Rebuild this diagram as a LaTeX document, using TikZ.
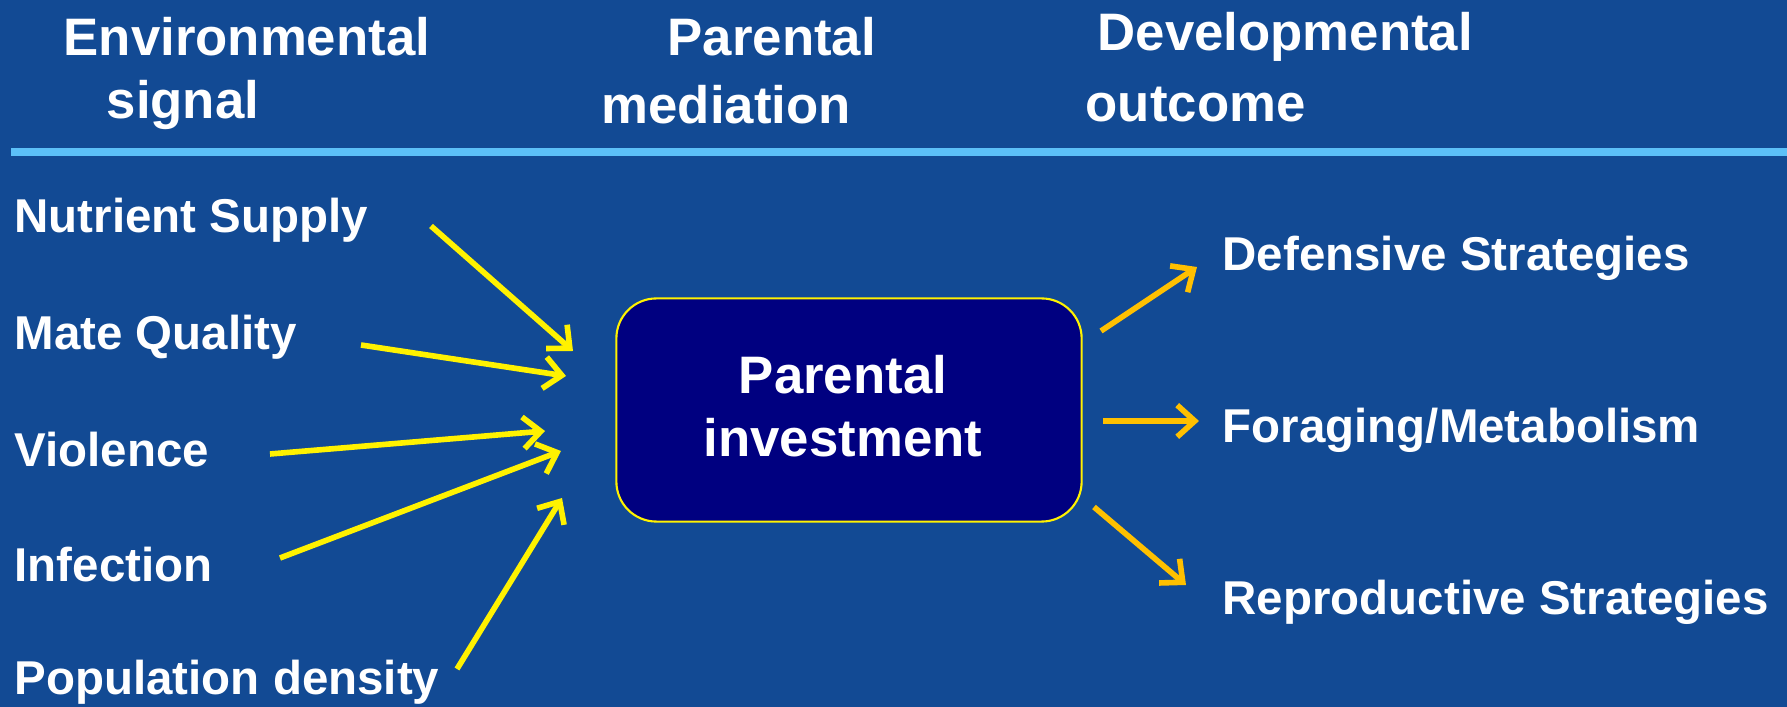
\documentclass[tikz,border=0pt]{standalone}
\usepackage{fontspec}
\setmainfont{Liberation Sans}
\usetikzlibrary{arrows.meta}
\definecolor{slide}{RGB}{18,74,148}
\definecolor{rule}{RGB}{92,192,248}
\definecolor{boxfill}{RGB}{0,0,128}
\definecolor{gold}{RGB}{255,192,0}

\begin{document}
\begin{tikzpicture}[x = 0.01cm, y = -0.01cm,
    every node/.style = { text = white, inner sep = 0 },
    head/.style = { anchor = west, font = \bfseries\fontsize{15}{18}\selectfont },
    lbl/.style = { anchor = west, font = \bfseries\fontsize{13.5}{16}\selectfont },
    inarrow/.style = { draw = yellow, line width = 1.6pt, -{Straight Barb[length=5pt, width=9pt]} },
    outarrow/.style = { draw = gold, line width = 1.6pt, -{Straight Barb[length=5pt, width=9pt]} }]
    \fill [slide] (0,0) rectangle (1787,707);
    \useasboundingbox (0,0) rectangle (1787,707);

    % column heads
    \node [head] (env1) at (63,37) { Environmental };
    \node [head] (env2) at (106,105) { signal };
    \node [head] (med1) at (667,37) { Parental };
    \node [head] (med2) at (601,105) { mediation };
    \node [head] (out1) at (1097,37) { Developmental };
    \node [head] (out2) at (1085,105) { outcome };
    \coordinate (ruleL) at (11,152);
    \coordinate (ruleR) at (1787,152);
    \draw [rule, line width = 2.2pt] (ruleL) -- (ruleR);

    % centre box
    \node [draw = yellow, fill = boxfill, rounded corners = 0.4cm, line width = 0.6pt,
           minimum width = 4.65cm, minimum height = 2.23cm, align = center,
           font = \bfseries\fontsize{15}{18}\selectfont] (pi) at (849,410) {};
    \node [align = center, font = \bfseries\fontsize{15}{18}\selectfont] (pitext) at (843,406) { Parental \\ investment };

    % signals
    \node [lbl] (nutr) at (14,220) { Nutrient Supply };
    \node [lbl] (mate) at (14,337) { Mate Quality };
    \node [lbl] (viol) at (14,450) { Violence };
    \node [lbl] (infe) at (14,565) { Infection };
    \node [lbl] (popd) at (14,682) { Population density };

    \coordinate (nutrA) at (431,226);  \coordinate (nutrB) at (573,351);
    \coordinate (mateA) at (361,345);  \coordinate (mateB) at (566,376);
    \coordinate (violA) at (270,454);  \coordinate (violB) at (545,431);
    \coordinate (infeA) at (280,558);  \coordinate (infeB) at (561,451);
    \coordinate (popdA) at (457,669);  \coordinate (popdB) at (562,498);
    \foreach \s in {nutr, mate, viol, infe, popd}
        \draw [inarrow] (\s A) -- (\s B);

    % outcomes
    \node [lbl] (defe) at (1222,258) { Defensive Strategies };
    \node [lbl] (fora) at (1222,430) { Foraging/Metabolism };
    \node [lbl] (repr) at (1222,602) { Reproductive Strategies };

    \coordinate (defeA) at (1101,331); \coordinate (defeB) at (1197,267);
    \coordinate (foraA) at (1103,421); \coordinate (foraB) at (1199,421);
    \coordinate (reprA) at (1094,507); \coordinate (reprB) at (1186,585);
    \foreach \o in {defe, fora, repr}
        \draw [outarrow] (\o A) -- (\o B);
\end{tikzpicture}
\end{document}
